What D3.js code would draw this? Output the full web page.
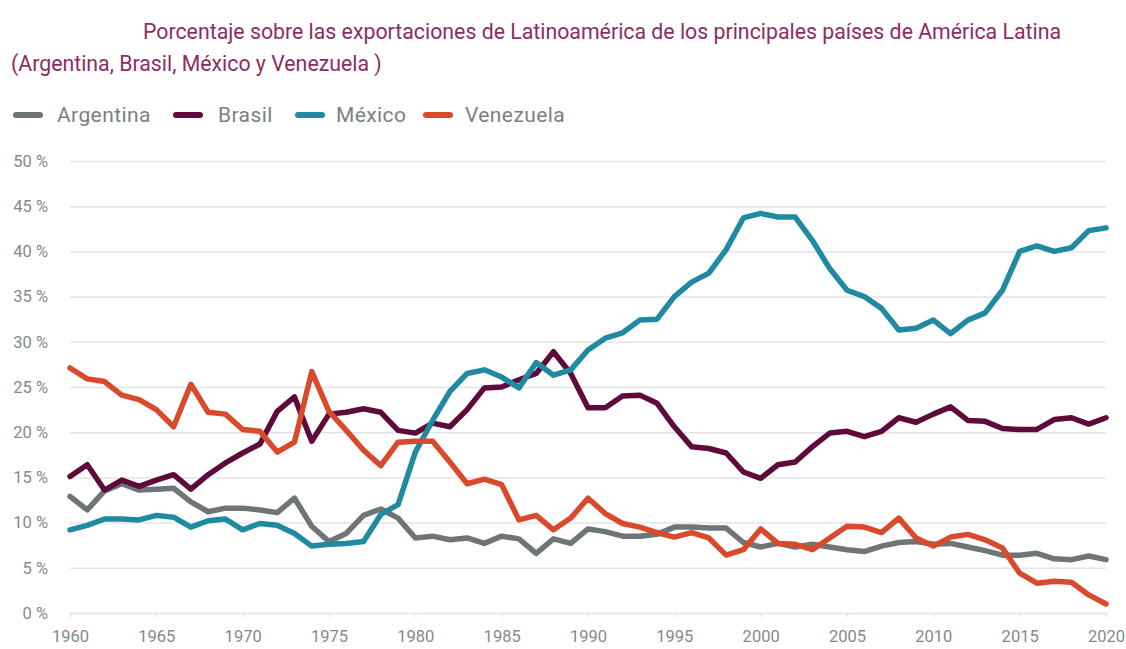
<!DOCTYPE html>
<html>
<head>
<meta charset="utf-8">
<script src="https://cdn.jsdelivr.net/npm/d3@7"></script>
<style>
  body { margin: 0; background: #fff; }
  text { font-family: Roboto, "Liberation Sans", sans-serif; }
</style>
</head>
<body>
<script>
// data
var years = d3.range(1960, 2021);
var seriesNames = ["Argentina", "Brasil", "México", "Venezuela"];
var seriesColors = ["#6f7577", "#5e0b3b", "#1f8aa1", "#d94a2c"];

var argentina = [12.9, 11.4, 13.5, 14.3, 13.6, 13.7, 13.8, 12.3, 11.2, 11.6,
  11.6, 11.4, 11.1, 12.7, 9.6, 7.9, 8.8, 10.8, 11.5, 10.5,
  8.3, 8.5, 8.1, 8.3, 7.7, 8.5, 8.2, 6.6, 8.2, 7.7,
  9.3, 9.0, 8.5, 8.5, 8.7, 9.5, 9.5, 9.4, 9.4, 7.8,
  7.3, 7.7, 7.3, 7.6, 7.3, 7.0, 6.8, 7.4, 7.8, 7.9,
  7.6, 7.7, 7.3, 6.9, 6.4, 6.4, 6.6, 6.0, 5.9, 6.3, 5.9];
var brasil = [15.1, 16.4, 13.6, 14.7, 14.0, 14.7, 15.3, 13.7, 15.3, 16.6,
  17.7, 18.7, 22.3, 23.9, 19.0, 22.0, 22.2, 22.6, 22.2, 20.2,
  19.9, 21.0, 20.6, 22.5, 24.9, 25.0, 25.8, 26.5, 28.9, 26.5,
  22.7, 22.7, 24.0, 24.1, 23.2, 20.6, 18.4, 18.2, 17.7, 15.6,
  14.9, 16.4, 16.7, 18.4, 19.9, 20.1, 19.5, 20.1, 21.6, 21.1,
  22.0, 22.8, 21.3, 21.2, 20.4, 20.3, 20.3, 21.4, 21.6, 20.9, 21.6];
var mexico = [9.2, 9.7, 10.4, 10.4, 10.3, 10.8, 10.6, 9.5, 10.2, 10.4,
  9.2, 9.9, 9.7, 8.8, 7.4, 7.6, 7.7, 7.9, 10.9, 12.0,
  17.8, 21.3, 24.5, 26.5, 26.9, 26.1, 24.9, 27.7, 26.3, 26.9,
  29.1, 30.4, 31.0, 32.4, 32.5, 35.0, 36.6, 37.6, 40.2, 43.7,
  44.2, 43.8, 43.8, 41.2, 38.1, 35.7, 35.0, 33.7, 31.3, 31.5,
  32.4, 30.9, 32.4, 33.2, 35.7, 40.0, 40.6, 40.0, 40.4, 42.3, 42.6];
var venezuela = [27.1, 25.9, 25.6, 24.1, 23.6, 22.5, 20.6, 25.3, 22.2, 22.0,
  20.3, 20.1, 17.8, 18.9, 26.7, 22.3, 20.2, 18.0, 16.3, 18.9,
  19.0, 19.0, 16.7, 14.3, 14.8, 14.2, 10.3, 10.8, 9.2, 10.5,
  12.7, 11.0, 9.9, 9.5, 8.9, 8.4, 8.9, 8.3, 6.4, 7.0,
  9.3, 7.7, 7.6, 7.0, 8.3, 9.6, 9.5, 8.9, 10.5, 8.3,
  7.4, 8.4, 8.7, 8.1, 7.2, 4.4, 3.3, 3.5, 3.4, 2.0, 1.0];
var yTicks = [0, 5, 10, 15, 20, 25, 30, 35, 40, 45, 50];
var xTicks = d3.range(1960, 2021, 5);

var width = 1126, height = 649;
var margin = { top: 161, right: 20, bottom: 36, left: 70 };

var svg = d3.select("body").append("svg")
    .attr("width", width)
    .attr("height", height);

var x = d3.scaleLinear().domain([1960, 2020]).range([margin.left, 1106]);
var y = d3.scaleLinear().domain([0, 50]).range([613, margin.top]);

// title
var titleColor = "#8c2d63";
svg.append("text")
    .attr("x", 143).attr("y", 39)
    .attr("font-size", 21.3)
    .attr("fill", titleColor)
    .text("Porcentaje sobre las exportaciones de Latinoamérica de los principales países de América Latina");
svg.append("text")
    .attr("x", 11).attr("y", 71)
    .attr("font-size", 21.3)
    .attr("fill", titleColor)
    .text("(Argentina, Brasil, México y Venezuela )");

// legend
var legendX = [13, 173, 295, 423];
var legendTextX = [57, 218, 336, 465];
var legend = svg.append("g");
seriesNames.forEach(function(name, i) {
    legend.append("line")
        .attr("x1", legendX[i] + 3).attr("x2", legendX[i] + 27)
        .attr("y1", 115).attr("y2", 115)
        .attr("stroke", seriesColors[i])
        .attr("stroke-width", 6)
        .attr("stroke-linecap", "round");
    legend.append("text")
        .attr("x", legendTextX[i]).attr("y", 122)
        .attr("font-size", 21)
        .attr("letter-spacing", 0.4)
        .attr("fill", "#7b7f82")
        .text(name);
});

// gridlines + y labels
var yAxis = d3.axisLeft(y)
    .tickValues(yTicks)
    .tickSize(-(x.range()[1] - x.range()[0]))
    .tickFormat(function(d) { return d + " %"; });
var gy = svg.append("g")
    .attr("transform", "translate(" + margin.left + ",0)")
    .call(yAxis);
gy.select(".domain").remove();
gy.selectAll(".tick line").attr("stroke", "#e4e4e4").attr("stroke-width", 1.5);
gy.selectAll(".tick text")
    .attr("x", -22)
    .attr("font-size", 16.5)
    .attr("fill", "#85898c")
    .attr("font-family", "Roboto, sans-serif");

// x axis
var xAxis = d3.axisBottom(x)
    .tickValues(xTicks)
    .tickSize(4)
    .tickFormat(d3.format("d"));
var gx = svg.append("g")
    .attr("transform", "translate(0,613)")
    .call(xAxis);
gx.select(".domain").remove();
gx.selectAll(".tick line").attr("stroke", "#e4e4e4").attr("stroke-width", 1.5);
gx.selectAll(".tick text")
    .attr("y", 17)
    .attr("font-size", 16.5)
    .attr("fill", "#85898c")
    .attr("font-family", "Roboto, sans-serif");

// lines
var allSeries = [argentina, brasil, mexico, venezuela];
var line = d3.line()
    .x(function(d, i) { return x(years[i]); })
    .y(function(d) { return y(d); });

svg.append("g").selectAll("path")
    .data(allSeries)
    .join("path")
    .attr("d", line)
    .attr("fill", "none")
    .attr("stroke", function(d, i) { return seriesColors[i]; })
    .attr("stroke-width", 5.5)
    .attr("stroke-linejoin", "round")
    .attr("stroke-linecap", "round");
</script>
</body>
</html>
